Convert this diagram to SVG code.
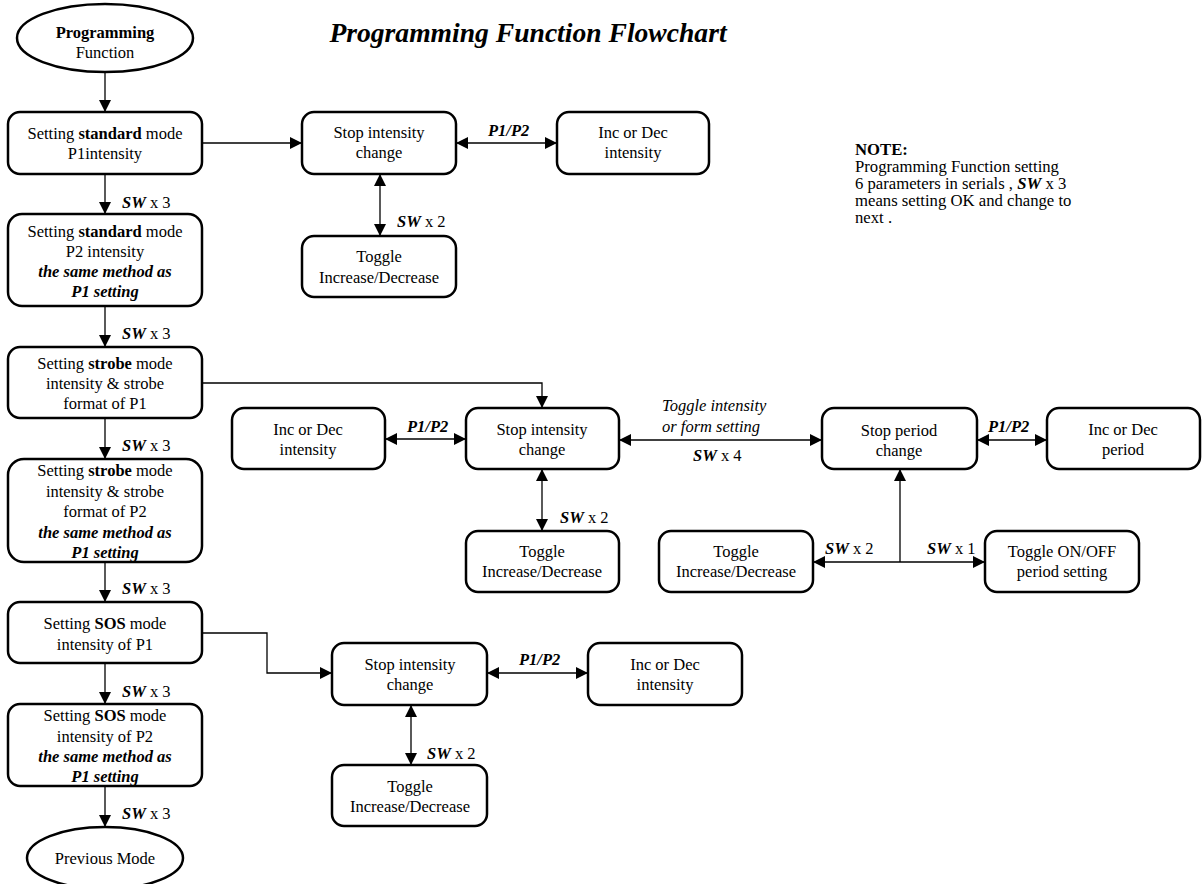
<svg xmlns="http://www.w3.org/2000/svg" width="1202" height="884" viewBox="0 0 1202 884">
<style>
text{font-family:"Liberation Serif","Times New Roman",serif;font-size:16.5px;fill:#000}
.c{text-anchor:middle}
.b{font-weight:bold}
.i{font-style:italic}
.bi{font-weight:bold;font-style:italic}
.box{fill:#fff;stroke:#000;stroke-width:2.5}
.ln{fill:none;stroke:#000;stroke-width:1.3}
.note{font-size:16.7px}
</style>
<defs>
<marker id="ah" markerUnits="userSpaceOnUse" markerWidth="12" markerHeight="12" refX="12" refY="6" orient="auto-start-reverse" viewBox="0 0 12 12">
<path d="M0,0 L12,6 L0,12 z" fill="#000"/>
</marker>
</defs>
<rect width="1202" height="884" fill="#fff"/>
<text class="c bi" x="528" y="42" style="font-size:27.6px">Programming Function Flowchart</text>

<g id="connectors">
<line class="ln" x1="105" y1="72" x2="105" y2="112" marker-end="url(#ah)"/>
<line class="ln" x1="105" y1="174" x2="105" y2="214" marker-end="url(#ah)"/>
<line class="ln" x1="105" y1="306" x2="105" y2="347" marker-end="url(#ah)"/>
<line class="ln" x1="105" y1="418" x2="105" y2="459" marker-end="url(#ah)"/>
<line class="ln" x1="105" y1="562" x2="105" y2="602" marker-end="url(#ah)"/>
<line class="ln" x1="105" y1="663" x2="105" y2="704" marker-end="url(#ah)"/>
<line class="ln" x1="105" y1="786" x2="105" y2="827" marker-end="url(#ah)"/>
<line class="ln" x1="202" y1="143" x2="302" y2="143" marker-end="url(#ah)"/>
<line class="ln" x1="456" y1="143" x2="557" y2="143" marker-start="url(#ah)" marker-end="url(#ah)"/>
<line class="ln" x1="380" y1="174" x2="380" y2="236" marker-start="url(#ah)" marker-end="url(#ah)"/>
<polyline class="ln" points="202,383 542,383 542,408" marker-end="url(#ah)"/>
<line class="ln" x1="385" y1="439" x2="466" y2="439" marker-start="url(#ah)" marker-end="url(#ah)"/>
<line class="ln" x1="542" y1="469" x2="542" y2="531" marker-start="url(#ah)" marker-end="url(#ah)"/>
<line class="ln" x1="619" y1="440" x2="822" y2="440" marker-start="url(#ah)" marker-end="url(#ah)"/>
<line class="ln" x1="977" y1="440" x2="1047" y2="440" marker-start="url(#ah)" marker-end="url(#ah)"/>
<line class="ln" x1="900" y1="562" x2="900" y2="469" marker-end="url(#ah)"/>
<line class="ln" x1="900" y1="562" x2="813" y2="562" marker-end="url(#ah)"/>
<line class="ln" x1="900" y1="562" x2="985" y2="562" marker-end="url(#ah)"/>
<polyline class="ln" points="202,633 267,633 267,673 332,673" marker-end="url(#ah)"/>
<line class="ln" x1="487" y1="673" x2="588" y2="673" marker-start="url(#ah)" marker-end="url(#ah)"/>
<line class="ln" x1="411" y1="705" x2="411" y2="765" marker-start="url(#ah)" marker-end="url(#ah)"/>
</g>

<g id="labels">
<text x="122" y="208"><tspan class="bi">SW</tspan> x 3</text>
<text x="122" y="339"><tspan class="bi">SW</tspan> x 3</text>
<text x="122" y="451"><tspan class="bi">SW</tspan> x 3</text>
<text x="122" y="594"><tspan class="bi">SW</tspan> x 3</text>
<text x="122" y="697"><tspan class="bi">SW</tspan> x 3</text>
<text x="122" y="819"><tspan class="bi">SW</tspan> x 3</text>
<text class="bi" x="488" y="136">P1/P2</text>
<text x="397" y="227"><tspan class="bi">SW</tspan> x 2</text>
<text class="bi" x="407" y="432">P1/P2</text>
<text x="560" y="523"><tspan class="bi">SW</tspan> x 2</text>
<text class="i" x="662" y="411">Toggle intensity</text>
<text class="i" x="662" y="432">or form setting</text>
<text x="693" y="461"><tspan class="bi">SW</tspan> x 4</text>
<text class="bi" x="988" y="432">P1/P2</text>
<text x="825" y="554"><tspan class="bi">SW</tspan> x 2</text>
<text x="927" y="554"><tspan class="bi">SW</tspan> x 1</text>
<text class="bi" x="519" y="665">P1/P2</text>
<text x="427" y="759"><tspan class="bi">SW</tspan> x 2</text>
</g>

<g id="start">
<ellipse class="box" cx="105" cy="38" rx="88" ry="34"/>
<text class="c b" x="105" y="38">Programming</text>
<text class="c" x="105" y="58">Function</text>
</g>
<g id="std-p1">
<rect class="box" x="8" y="112" width="194" height="62" rx="12"/>
<text class="c" x="105" y="139">Setting <tspan class="b">standard</tspan> mode</text>
<text class="c" x="105" y="159">P1intensity</text>
</g>
<g id="std-p2">
<rect class="box" x="8" y="214" width="194" height="92" rx="14"/>
<text class="c" x="105" y="237">Setting <tspan class="b">standard</tspan> mode</text>
<text class="c" x="105" y="257">P2 intensity</text>
<text class="c bi" x="105" y="277">the same method as</text>
<text class="c bi" x="105" y="297">P1 setting</text>
</g>
<g id="strobe-p1">
<rect class="box" x="8" y="347" width="194" height="71" rx="12"/>
<text class="c" x="105" y="369">Setting <tspan class="b">strobe</tspan> mode</text>
<text class="c" x="105" y="389">intensity &amp; strobe</text>
<text class="c" x="105" y="409">format of P1</text>
</g>
<g id="strobe-p2">
<rect class="box" x="8" y="459" width="194" height="103" rx="16"/>
<text class="c" x="105" y="476">Setting <tspan class="b">strobe</tspan> mode</text>
<text class="c" x="105" y="496.5">intensity &amp; strobe</text>
<text class="c" x="105" y="517">format of P2</text>
<text class="c bi" x="105" y="537.5">the same method as</text>
<text class="c bi" x="105" y="558">P1 setting</text>
</g>
<g id="sos-p1">
<rect class="box" x="8" y="602" width="194" height="61" rx="12"/>
<text class="c" x="105" y="629">Setting <tspan class="b">SOS</tspan> mode</text>
<text class="c" x="105" y="650">intensity of P1</text>
</g>
<g id="sos-p2">
<rect class="box" x="8" y="704" width="194" height="82" rx="12"/>
<text class="c" x="105" y="721">Setting <tspan class="b">SOS</tspan> mode</text>
<text class="c" x="105" y="742">intensity of P2</text>
<text class="c bi" x="105" y="762">the same method as</text>
<text class="c bi" x="105" y="782">P1 setting</text>
</g>
<g id="prev-mode">
<ellipse class="box" cx="105" cy="858" rx="78" ry="31"/>
<text class="c" x="105" y="864">Previous Mode</text>
</g>

<g id="std-stop">
<rect class="box" x="302" y="112" width="154" height="62" rx="12"/>
<text class="c" x="379" y="138">Stop intensity</text>
<text class="c" x="379" y="158">change</text>
</g>
<g id="std-incdec">
<rect class="box" x="557" y="112" width="152" height="62" rx="12"/>
<text class="c" x="633" y="138">Inc or Dec</text>
<text class="c" x="633" y="158">intensity</text>
</g>
<g id="std-toggle">
<rect class="box" x="302" y="236" width="154" height="61" rx="12"/>
<text class="c" x="379" y="262">Toggle</text>
<text class="c" x="379" y="283">Increase/Decrease</text>
</g>

<g id="strobe-incdec">
<rect class="box" x="232" y="408" width="153" height="61" rx="12"/>
<text class="c" x="308" y="435">Inc or Dec</text>
<text class="c" x="308" y="455">intensity</text>
</g>
<g id="strobe-stop">
<rect class="box" x="466" y="408" width="153" height="61" rx="12"/>
<text class="c" x="542" y="435">Stop intensity</text>
<text class="c" x="542" y="455">change</text>
</g>
<g id="strobe-toggle">
<rect class="box" x="466" y="531" width="153" height="61" rx="12"/>
<text class="c" x="542" y="557">Toggle</text>
<text class="c" x="542" y="577">Increase/Decrease</text>
</g>
<g id="period-stop">
<rect class="box" x="822" y="408" width="155" height="61" rx="12"/>
<text class="c" x="899" y="436">Stop period</text>
<text class="c" x="899" y="456">change</text>
</g>
<g id="period-incdec">
<rect class="box" x="1047" y="408" width="153" height="61" rx="12"/>
<text class="c" x="1123" y="435">Inc or Dec</text>
<text class="c" x="1123" y="455">period</text>
</g>
<g id="period-toggle">
<rect class="box" x="659" y="531" width="154" height="61" rx="12"/>
<text class="c" x="736" y="557">Toggle</text>
<text class="c" x="736" y="577">Increase/Decrease</text>
</g>
<g id="period-onoff">
<rect class="box" x="985" y="531" width="154" height="61" rx="12"/>
<text class="c" x="1062" y="557">Toggle ON/OFF</text>
<text class="c" x="1062" y="577">period setting</text>
</g>

<g id="sos-stop">
<rect class="box" x="332" y="643" width="155" height="62" rx="12"/>
<text class="c" x="410" y="670">Stop intensity</text>
<text class="c" x="410" y="690">change</text>
</g>
<g id="sos-incdec">
<rect class="box" x="588" y="643" width="154" height="62" rx="12"/>
<text class="c" x="665" y="670">Inc or Dec</text>
<text class="c" x="665" y="690">intensity</text>
</g>
<g id="sos-toggle">
<rect class="box" x="332" y="765" width="155" height="61" rx="12"/>
<text class="c" x="410" y="792">Toggle</text>
<text class="c" x="410" y="812">Increase/Decrease</text>
</g>

<g id="note">
<text class="note b" x="855" y="155">NOTE:</text>
<text class="note" x="855" y="172">Programming Function setting</text>
<text class="note" x="855" y="189">6 parameters in serials , <tspan class="bi">SW</tspan> x 3</text>
<text class="note" x="855" y="206">means setting OK and change to</text>
<text class="note" x="855" y="223">next .</text>
</g>
</svg>
